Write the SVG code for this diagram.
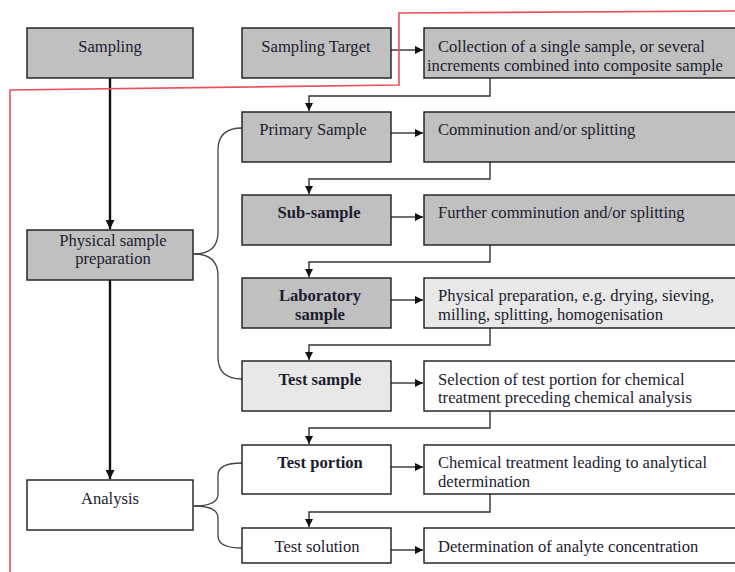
<svg xmlns="http://www.w3.org/2000/svg" width="735" height="572" viewBox="0 0 735 572">
<style>
.box{stroke:#1a1a1a;stroke-width:1.4}
.g{fill:#c0c0c0}
.lg{fill:#e8e8e8}
.w{fill:#ffffff}
text{font-family:"Liberation Serif","Times New Roman",serif;font-size:16.6px;fill:#1c1c2e}
.c{text-anchor:middle}
.b{font-weight:bold}
.con{fill:none;stroke:#333;stroke-width:1.4}
.thick{fill:none;stroke:#111;stroke-width:2.4}
.brace{fill:none;stroke:#444;stroke-width:1.3}
</style>
<defs>
<marker id="ah" viewBox="0 0 10 10" refX="10" refY="5" markerWidth="8" markerHeight="8" markerUnits="userSpaceOnUse" orient="auto"><path d="M0,0 L10,5 L0,10 z" fill="#111"/></marker>
<marker id="ahb" viewBox="0 0 10 10" refX="10" refY="5" markerWidth="9" markerHeight="9" markerUnits="userSpaceOnUse" orient="auto"><path d="M0,0 L10,5 L0,10 z" fill="#111"/></marker>
</defs>
<rect width="735" height="572" fill="#fff"/>

<g id="connectors">
<path class="thick" d="M110,78 V229" marker-end="url(#ahb)"/>
<path class="thick" d="M110,280 V479" marker-end="url(#ahb)"/>
<path class="con" d="M391,50 H423" marker-end="url(#ah)"/>
<path class="con" d="M391,133 H423" marker-end="url(#ah)"/>
<path class="con" d="M391,217 H423" marker-end="url(#ah)"/>
<path class="con" d="M391,300 H423" marker-end="url(#ah)"/>
<path class="con" d="M391,383 H423" marker-end="url(#ah)"/>
<path class="con" d="M391,467 H423" marker-end="url(#ah)"/>
<path class="con" d="M391,550 H423" marker-end="url(#ah)"/>
<path class="con" d="M490,78 V96 H309 V111" marker-end="url(#ah)"/>
<path class="con" d="M490,162 V179 H309 V194" marker-end="url(#ah)"/>
<path class="con" d="M490,245 V262 H309 V277" marker-end="url(#ah)"/>
<path class="con" d="M490,328 V345 H309 V360" marker-end="url(#ah)"/>
<path class="con" d="M490,411 V428 H309 V444" marker-end="url(#ah)"/>
<path class="con" d="M490,494 V512 H309 V527" marker-end="url(#ah)"/>
<path class="brace" d="M194,254 Q218,254 218,232 V150 Q218,128 242,128"/>
<path class="brace" d="M194,254 Q218,254 218,276 V357 Q218,379 242,379"/>
<path class="brace" d="M194,506 Q218,506 218,494 V475 Q218,463 242,463"/>
<path class="brace" d="M194,506 Q218,506 218,518 V536 Q218,548 242,548"/>
</g>

<g id="n-sampling"><rect class="box g" x="27" y="28" width="166" height="50"/><text class="c" x="110" y="52">Sampling</text></g>
<g id="n-physical"><rect class="box g" x="27" y="230" width="166" height="50"/><text class="c" x="113" y="246">Physical sample</text><text class="c" x="113" y="264">preparation</text></g>
<g id="n-analysis"><rect class="box w" x="27" y="480" width="166" height="50"/><text class="c" x="110" y="504">Analysis</text></g>

<g id="n-target"><rect class="box g" x="242" y="28" width="149" height="50"/><text class="c" x="316" y="52">Sampling Target</text></g>
<g id="n-primary"><rect class="box g" x="242" y="112" width="149" height="50"/><text class="c" x="313" y="135">Primary Sample</text></g>
<g id="n-sub"><rect class="box g" x="242" y="195" width="149" height="50"/><text class="c b" x="319" y="218">Sub-sample</text></g>
<g id="n-lab"><rect class="box g" x="242" y="278" width="149" height="50"/><text class="c b" x="320" y="301">Laboratory</text><text class="c b" x="320" y="320">sample</text></g>
<g id="n-testsample"><rect class="box lg" x="242" y="361" width="149" height="50"/><text class="c b" x="320" y="385">Test sample</text></g>
<g id="n-testportion"><rect class="box w" x="242" y="445" width="149" height="49"/><text class="c b" x="320" y="468">Test portion</text></g>
<g id="n-testsolution"><rect class="box w" x="242" y="528" width="149" height="35"/><text class="c" x="317" y="552">Test solution</text></g>

<g id="n-collection"><rect class="box g" x="424" y="28" width="320" height="50"/><text x="438" y="52">Collection of a single sample, or several</text><text x="427" y="71">increments combined into composite sample</text></g>
<g id="n-comminution"><rect class="box g" x="424" y="112" width="320" height="50"/><text x="438" y="135">Comminution and/or splitting</text></g>
<g id="n-further"><rect class="box g" x="424" y="195" width="320" height="50"/><text x="438" y="218">Further comminution and/or splitting</text></g>
<g id="n-physprep"><rect class="box lg" x="424" y="278" width="320" height="50"/><text x="438" y="301">Physical preparation, e.g. drying, sieving,</text><text x="438" y="320">milling, splitting, homogenisation</text></g>
<g id="n-selection"><rect class="box w" x="424" y="361" width="320" height="50"/><text x="438" y="385">Selection of test portion for chemical</text><text x="438" y="403">treatment preceding chemical analysis</text></g>
<g id="n-chemical"><rect class="box w" x="424" y="445" width="320" height="49"/><text x="438" y="468">Chemical treatment leading to analytical</text><text x="438" y="487">determination</text></g>
<g id="n-determination"><rect class="box w" x="424" y="528" width="320" height="35"/><text x="438" y="552">Determination of analyte concentration</text></g>

<path d="M10,572 V90 L399,85 V13 L735,11" fill="none" stroke="#e8505a" stroke-width="1.6"/>
</svg>
